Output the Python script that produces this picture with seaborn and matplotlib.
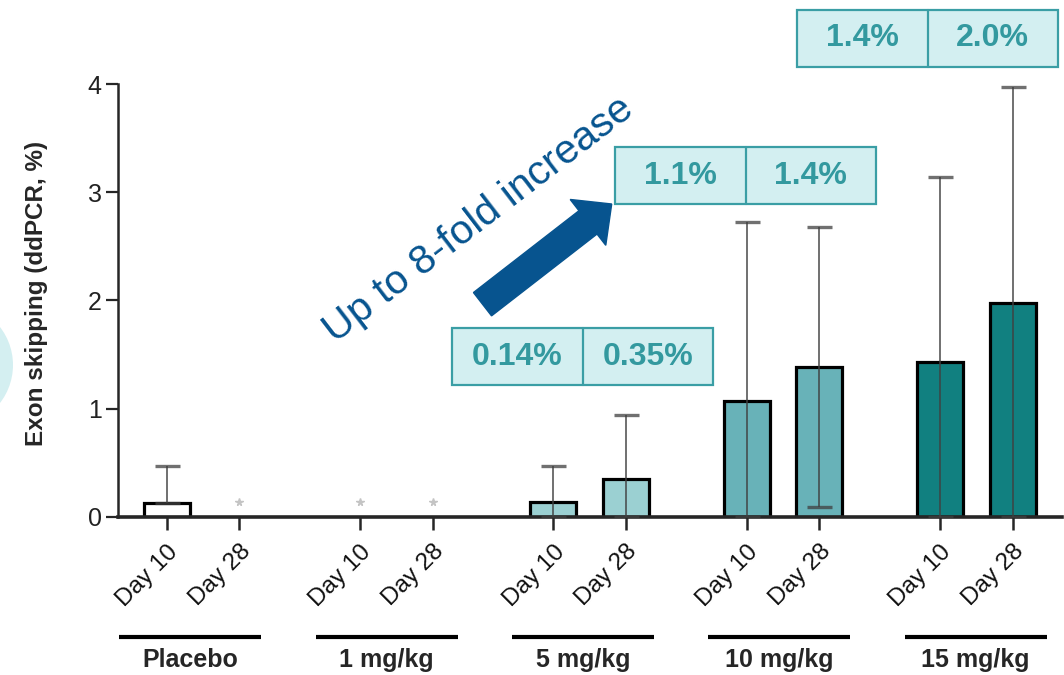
import numpy as np
import pandas as pd
import matplotlib
matplotlib.use("Agg")
import matplotlib.pyplot as plt
import matplotlib.patches as mpatches
import matplotlib.transforms as mtrans
import seaborn as sns

####################################################################
groups = ["Placebo", "1 mg/kg", "5 mg/kg", "10 mg/kg", "15 mg/kg"]
days = ["Day 10", "Day 28"]
# one value per (group, day); nan = nothing measured, drawn as a grey *
mean_pct = [0.13, np.nan, np.nan, np.nan, 0.14, 0.35, 1.07, 1.38, 1.43, 1.98]
err_low = [0.0, 0, 0, 0, 0.14, 0.35, 1.07, 1.29, 1.43, 1.98]
err_high = [0.335, 0, 0, 0, 0.325, 0.59, 1.65, 1.30, 1.71, 1.99]
star_y = 0.14
box_text = [["0.14%", "0.35%"], ["1.1%", "1.4%"], ["1.4%", "2.0%"]]
y_ticks = [0, 1, 2, 3, 4]

bar_colors = {"Placebo": "white", "5 mg/kg": "#9bd0d2",
              "10 mg/kg": "#68b2b8", "15 mg/kg": "#118080"}
teal_edge = "#3a9ea5"
teal_fill = "#d3eff1"
teal_text = "#33999f"
arrow_blue = "#07548f"
####################################################################
gap = 2.667
rows = []
for g, grp in enumerate(groups):
    for d, day in enumerate(days):
        i = 2 * g + d
        rows.append(dict(group=grp, day=day, pos=g * gap + d,
                         mean=mean_pct[i], lo=err_low[i], hi=err_high[i]))
df = pd.DataFrame(rows)
bars = df.dropna(subset=["mean"])
stars = df[df["mean"].isna()]

sns.set_style("ticks")
plt.rcParams["font.family"] = ["Liberation Sans", "DejaVu Sans"]

fig = plt.figure(figsize=(10.64, 6.75), dpi=100)
ax = fig.add_axes([0.1109, 0.2345, 0.887, 0.641])

sns.barplot(data=bars, x="pos", y="mean", hue="group",
            hue_order=[g for g in groups if g in bars["group"].values],
            palette=bar_colors, native_scale=True, width=0.634, dodge=False,
            saturation=1, errorbar=None, edgecolor="black", linewidth=2.3,
            legend=False, ax=ax, zorder=2)

ax.errorbar(bars["pos"], bars["mean"], yerr=[bars["lo"], bars["hi"]],
            fmt="none", ecolor="#404040", alpha=0.75, elinewidth=1.4,
            capsize=9, capthick=2.4, zorder=3)
ax.plot(stars["pos"], [star_y] * len(stars), ls="none", marker="*",
        color="#c4c4c4", ms=5.5, zorder=3)

ax.set_xlim(-0.672, 12.345)
ax.set_ylim(0, 4)
ax.set_yticks(y_ticks)
ax.set_yticklabels([str(t) for t in y_ticks], fontsize=18, color="#222222")
ax.set_xticks(df["pos"])
ax.set_xticklabels(df["day"], rotation=45, ha="right", va="top",
                   rotation_mode="anchor", fontsize=17.5, color="#111111")
off = mtrans.ScaledTranslation(4 / 100, 0, fig.dpi_scale_trans)
for lab in ax.get_xticklabels():
    lab.set_transform(lab.get_transform() + off)
ax.set_xlabel("")
ax.set_ylabel("")
ax.tick_params(axis="y", length=8.8, width=1.6, pad=3)
ax.tick_params(axis="x", length=9.3, width=1.8, pad=8)
sns.despine(ax=ax)
ax.spines["left"].set_linewidth(1.8)
ax.spines["bottom"].set_linewidth(2.6)
ax.grid(False)

# dose group underlines and names
xt = ax.get_xaxis_transform()
for g, grp in enumerate(groups):
    c = 0.326 + g * 2.708
    ax.plot([c - 0.98, c + 0.98], [-0.2773, -0.2773], color="black", lw=3,
            transform=xt, clip_on=False, solid_capstyle="butt")
    ax.text(c, -0.3323, grp, transform=xt, ha="center", va="center",
            fontsize=18, fontweight="bold")

# percentage boxes above the dose groups
box_x = [3.935, 6.183, 8.694]
box_y = [1.217, 2.89, 4.159]
box_w, box_h = 3.6, 0.527
for (x0, y0), txt in zip(zip(box_x, box_y), box_text):
    ax.add_patch(mpatches.Rectangle((x0, y0), box_w, box_h, facecolor=teal_fill,
                                    edgecolor=teal_edge, lw=1.6, clip_on=False,
                                    zorder=4))
    ax.plot([x0 + box_w / 2] * 2, [y0, y0 + box_h], color=teal_edge, lw=1.6,
            clip_on=False, zorder=5)
    for k in range(2):
        ax.text(x0 + box_w * (0.25 + 0.5 * k), y0 + box_h / 2, txt[k],
                ha="center", va="center", fontsize=23, fontweight="bold",
                color=teal_text, zorder=6, clip_on=False)

# arrow + caption, placed in inches from the figure's lower left
arr = mpatches.FancyArrow(4.825, 3.708, 1.292, 1.002, width=0.295,
                          head_width=0.58, head_length=0.30,
                          length_includes_head=True, color=arrow_blue,
                          transform=fig.dpi_scale_trans)
fig.add_artist(arr)
fig.text(479 / 1064, 1 - 220 / 675, "Up to 8-fold increase", rotation=37.5,
         rotation_mode="anchor", ha="center", va="center", fontsize=29.5,
         color=arrow_blue)

# pale circle peeking in from the left edge
fig.add_artist(mpatches.Circle((-0.49, 3.10), 0.62, facecolor="#d4eff1",
                               edgecolor="none", transform=fig.dpi_scale_trans))

fig.text(37 / 1064, 1 - 293 / 675, "Exon skipping (ddPCR, %)", rotation=90,
         ha="center", va="center", fontsize=17.5, fontweight="bold")

plt.savefig("out.png", dpi=100)
